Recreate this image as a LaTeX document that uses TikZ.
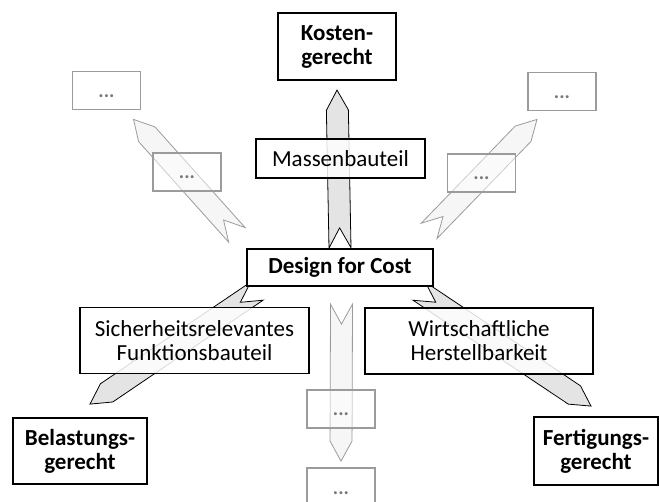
\documentclass[tikz,border=0pt]{standalone}
\usepackage{fontspec}
\setmainfont{Carlito}
\usetikzlibrary{calc, backgrounds}
\definecolor{bandGray}{RGB}{228, 228, 228}
\definecolor{paleGray}{RGB}{246, 246, 246}
\definecolor{lineGray}{RGB}{155, 155, 155}
\definecolor{dotGray}{RGB}{120, 120, 120}

\tikzset{
  goal/.style={draw, line width=2.2pt, fill=white, align=center, inner sep=2pt,
    font=\fontsize{23}{24}\selectfont\bfseries},
  factor/.style={draw, line width=1.8pt, fill=white, fill opacity=0.85, text opacity=1,
    align=center, inner sep=2pt, font=\fontsize{23}{24}\selectfont},
  more/.style={draw=lineGray, line width=1.8pt, fill=white, fill opacity=0.5, text opacity=1,
    text=dotGray, minimum width=68pt, minimum height=38pt, text height=14pt, text depth=0pt,
    font=\fontsize{20}{20}\selectfont\bfseries},
  dark/.style={fill=bandGray, draw=black, line width=0.8pt},
  pale/.style={fill=paleGray, draw=lineGray, line width=0.8pt},
}

% band arrow with notched tail: \ribbon[style]{tail}{tip}
\newcommand{\ribbon}[3][]{%
  \filldraw[#1] let \p1=(#2), \p2=(#3),
      \n1={atan2(\y2-\y1,\x2-\x1)}, \n2={veclen(\x2-\x1,\y2-\y1)} in
    [shift={(\p1)}, rotate=\n1]
    (0pt,11pt) -- (\n2-20pt,11pt) -- (\n2,0pt) -- (\n2-20pt,-11pt)
    -- (0pt,-11pt) -- (20pt,0pt) -- cycle;}

\begin{document}
\begin{tikzpicture}[x=1pt, y=-1pt]
  \useasboundingbox (0,0) rectangle (659,502);
  \clip (0,0) rectangle (659,502);

  % centre
  \node[goal, minimum width=186pt, minimum height=37pt] (dfc) at (340,267.5) {Design for Cost};

  % goals
  \node[goal, minimum width=118pt, minimum height=67pt] (kosten) at (337,46.5) {Kosten-\\gerecht};
  \node[goal, line width=1.8pt, minimum width=134pt, minimum height=66pt] (belast) at (80,451) {Belastungs-\\gerecht};
  \node[goal, line width=1.8pt, minimum width=124pt, minimum height=68pt] (fert) at (596,451) {Fertigungs-\\gerecht};

  % factors on the arrows
  \node[factor, minimum width=169pt, minimum height=39pt] (massen) at (340.5,158.5) {Massenbauteil};
  \node[factor, minimum width=229pt, minimum height=66pt] (sicher) at (194.5,340.5) {Sicherheitsrelevantes\\Funktionsbauteil};
  \node[factor, minimum width=228pt, minimum height=66pt] (wirt) at (479,341) {Wirtschaftliche\\Herstellbarkeit};

  % further directions
  \node[more] (tl) at (106.5,90.5) {...};
  \node[more] (ml) at (187,172) {...};
  \node[more] (tr) at (562,91.5) {...};
  \node[more] (mr) at (481.5,173) {...};
  \node[more] (bm) at (341,409) {...};
  \node[more] (bb) at (341,487) {...};

  \begin{pgfonlayer}{background}
    \ribbon[dark]{dfc.north}{$(kosten.south)+(0,9)$}
    \ribbon[dark]{$(dfc.south west)+(11,4)$}{$(belast.north)+(10,-13)$}
    \ribbon[dark]{$(dfc.south east)+(-15,4)$}{$(fert.north)+(-5,-10)$}
    \ribbon[pale]{$(dfc.south)+(1.5,17)$}{$(bb.north)+(0,-6)$}
    \ribbon[pale]{$(dfc.north west)+(-9,-13)$}{$(tl.south)+(27,9)$}
    \ribbon[pale]{$(dfc.north east)+(-5,-17)$}{$(tr.south)+(-25,8)$}
  \end{pgfonlayer}
\end{tikzpicture}
\end{document}
